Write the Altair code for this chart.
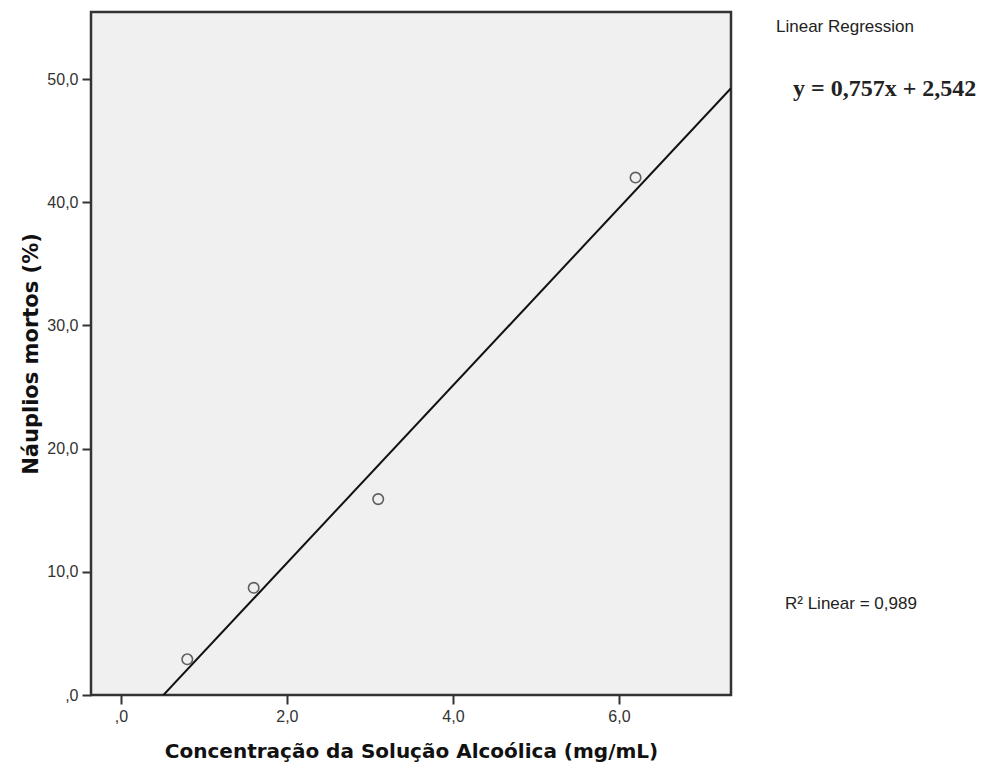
import altair as alt
import pandas as pd

# Concentration of the alcoholic solution (mg/mL) and dead nauplii (%)
concentracao = [0.8, 1.6, 3.1, 6.2]
mortos = [2.9, 8.7, 15.9, 42.0]

x_dominio = [-0.36, 7.35]
y_dominio = [0, 55.44]
x_ticks = [0, 2, 4, 6]
y_ticks = [0, 10, 20, 30, 40, 50]

titulo_legenda = "Linear Regression"
equacao = "y = 0,757x + 2,542"
r2_texto = "R² Linear = 0,989"

df = pd.DataFrame({"conc": concentracao, "mortos": mortos})

fmt = "datum.value == 0 ? ',0' : replace(format(datum.value, '.1f'), '.', ',')"

x_enc = alt.X(
    "conc:Q",
    scale=alt.Scale(domain=x_dominio, nice=False, zero=False),
    axis=alt.Axis(
        values=x_ticks, labelExpr=fmt, grid=False, domain=False,
        title="Concentração da Solução Alcoólica (mg/mL)",
        titlePadding=17, titleFontSize=20,
    ),
)
y_enc = alt.Y(
    "mortos:Q",
    scale=alt.Scale(domain=y_dominio, nice=False),
    axis=alt.Axis(
        values=y_ticks, labelExpr=fmt, grid=False, domain=False,
        title="Náuplios mortos (%)", titlePadding=5, titleFontSize=21,
    ),
)

base = alt.Chart(df)

pontos = base.mark_point(
    shape="circle", filled=False, size=110, color="#222222", strokeWidth=1.6
).encode(x=x_enc, y=y_enc)

reta = base.transform_regression(
    "conc", "mortos", extent=x_dominio
).mark_line(color="#111111", strokeWidth=2, clip=True).encode(x=x_enc, y=y_enc)


def rotulo(texto, px, py, **kw):
    return alt.Chart(alt.Data(values=[{}])).mark_text(
        text=texto, align="left", baseline="middle", clip=False, **kw
    ).encode(x=alt.value(px), y=alt.value(py))


t1 = rotulo(titulo_legenda, 685, 15, font="Liberation Sans", fontSize=17, color="#222222")
t2 = rotulo(equacao, 702, 77, font="Liberation Serif", fontSize=24, fontWeight="bold", color="#222222")
t3 = rotulo(r2_texto, 694, 592, font="Liberation Sans", fontSize=17, color="#222222")

chart = alt.layer(reta, pontos, t1, t2, t3).properties(
    width=640, height=683,
    autosize=alt.AutoSizeParams(type="none"),
    padding={"left": 91, "top": 12, "right": 272, "bottom": 77},
    background="white",
).configure_view(
    fill="#f0f0f0", stroke="#333333", strokeWidth=2.5
).configure_axis(
    labelFont="Liberation Sans", labelFontSize=16, labelColor="#333333",
    tickColor="#333333", tickWidth=2, tickSize=9, labelPadding=4,
    titleFont="DejaVu Sans", titleFontWeight="bold",
    titleColor="#111111",
)

chart.save("out.html", embed_options={"renderer": "svg", "actions": False})
